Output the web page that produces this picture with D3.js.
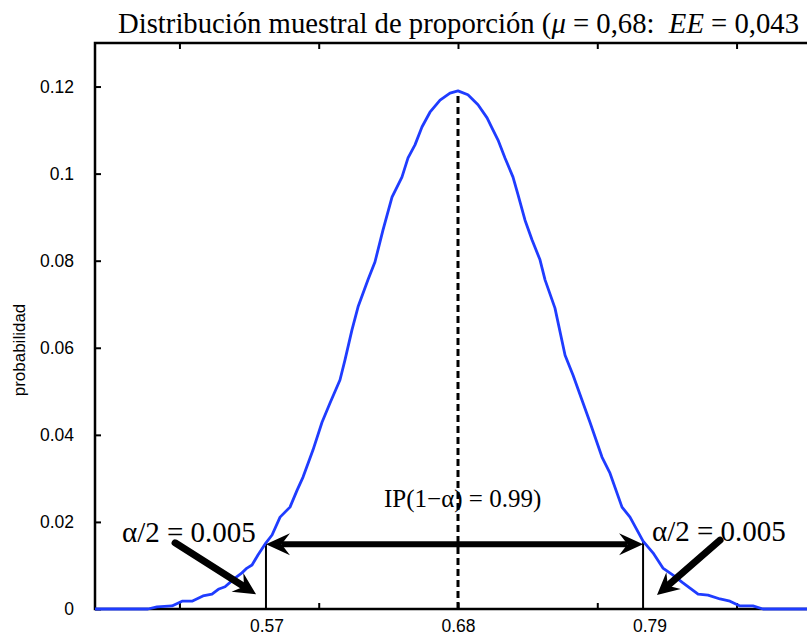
<!DOCTYPE html>
<html><head><meta charset="utf-8">
<script src="https://cdn.jsdelivr.net/npm/d3@7"></script>
<style>body{margin:0;background:#fff}svg{display:block}</style>
</head><body>
<svg id="c" width="807" height="636"></svg>
<script>
// Sample proportion values (x) and their probabilities (y)
const proportion = [0.4715,0.5019,0.5071,0.5157,0.5215,0.5272,0.5335,0.5387,0.5427,0.5462,0.5519,0.5559,0.5588,0.5617,0.5651,0.5697,0.5732,0.5778,0.5835,0.5876,0.5910,0.5967,0.6019,0.6065,0.6122,0.6151,0.6191,0.6226,0.6283,0.6323,0.6369,0.6421,0.6478,0.6513,0.6553,0.6593,0.6639,0.6697,0.6754,0.6800,0.6857,0.6915,0.6967,0.6995,0.7030,0.7070,0.7116,0.7145,0.7185,0.7225,0.7271,0.7300,0.7357,0.7415,0.7461,0.7512,0.7558,0.7627,0.7673,0.7742,0.7788,0.7863,0.7920,0.7977,0.8035,0.8092,0.8179,0.8236,0.8305,0.8362,0.8420,0.8494,0.8552,0.8885];
const probability = [0,0,0.0005,0.0007,0.0018,0.0018,0.0030,0.0034,0.0046,0.0051,0.0071,0.0083,0.0094,0.0101,0.0124,0.0152,0.0170,0.0211,0.0234,0.0273,0.0303,0.0365,0.0429,0.0473,0.0526,0.0572,0.0641,0.0694,0.0756,0.0797,0.0870,0.0946,0.0992,0.1036,0.1066,0.1107,0.1141,0.1169,0.1185,0.1190,0.1181,0.1158,0.1128,0.1105,0.1077,0.1036,0.0992,0.0951,0.0893,0.0848,0.0802,0.0756,0.0691,0.0583,0.0537,0.0480,0.0429,0.0349,0.0312,0.0234,0.0211,0.0156,0.0129,0.0094,0.0078,0.0060,0.0034,0.0032,0.0023,0.0018,0.0007,0.0007,0,0];

const yTicks = [0,0.02,0.04,0.06,0.08,0.1,0.12];
const yTickLabels = ["0","0.02","0.04","0.06","0.08","0.1","0.12"];
const xTicks = [0.52,0.60,0.68,0.76,0.84];
const xLabelValues = [0.57,0.68,0.79];
const xLabels = ["0.57","0.68","0.79"];

const meanValue = 0.68, peakValue = 0.1190;
const ciBounds = [0.5697, 0.7863];
const ciTops = [0.0152, 0.0156];
const ciArrowY = 0.0149;
// annotation arrows [x1,y1,x2,y2]
const tailArrows = [[0.5175,0.0152,0.5640,0.0034],[0.8305,0.0158,0.7943,0.0032]];
const tailLabels = [[0.4870,0.0154],[0.7914,0.0156]];
const ipLabel = [0.6375,0.0234];

const svg = d3.select("#c");
const L = 95, T = 43, B = 609, R = 821;
const x = d3.scaleLinear().domain([0.4715, 0.8885]).range([L, R]);
const y = d3.scaleLinear().domain([0, 0.13]).range([B, T]);

const sans = "'Liberation Sans', Arial, sans-serif";
const serif = "'Liberation Serif', 'Times New Roman', serif";

// frame
svg.append("rect").attr("x", L).attr("y", T).attr("width", R - L).attr("height", B - T)
  .attr("fill", "none").attr("stroke", "#000").attr("stroke-width", 2.5);

// y axis
const ya = svg.append("g").attr("transform", `translate(${L},0)`)
  .call(d3.axisLeft(y).tickValues(yTicks).tickFormat((d, i) => yTickLabels[i]).tickSizeInner(-6).tickSizeOuter(0).tickPadding(21));
ya.select(".domain").remove();
ya.selectAll("line").attr("stroke", "#000").attr("stroke-width", 2);
ya.selectAll("text").attr("font-family", sans).attr("font-size", 17.5).attr("fill", "#000");

// x ticks bottom & top
const xb = svg.append("g").attr("transform", `translate(0,${B})`)
  .call(d3.axisBottom(x).tickValues(xTicks).tickFormat("").tickSizeInner(-6).tickSizeOuter(0));
xb.select(".domain").remove();
xb.selectAll("line").attr("stroke", "#000").attr("stroke-width", 2);
const xt = svg.append("g").attr("transform", `translate(0,${T})`)
  .call(d3.axisTop(x).tickValues(xTicks).tickFormat("").tickSizeInner(-6).tickSizeOuter(0));
xt.select(".domain").remove();
xt.selectAll("line").attr("stroke", "#000").attr("stroke-width", 2);

// x labels
const xl = svg.append("g").attr("transform", `translate(0,${B})`)
  .call(d3.axisBottom(x).tickValues(xLabelValues).tickFormat((d, i) => xLabels[i]).tickSize(0).tickPadding(11));
xl.select(".domain").remove();
xl.selectAll("text").attr("font-family", sans).attr("font-size", 17.5).attr("fill", "#000");

// y label
svg.append("text").attr("transform", `translate(25,350) rotate(-90)`)
  .attr("text-anchor", "middle").attr("font-family", sans).attr("font-size", 17).text("probabilidad");

// title
const title = svg.append("text").attr("x", 118).attr("y", 33).attr("font-family", serif).attr("font-size", 28.7)
  .style("white-space", "pre").attr("xml:space", "preserve");
title.append("tspan").text("Distribución muestral de proporción (");
title.append("tspan").attr("font-style", "italic").text("μ");
title.append("tspan").text(" = 0,68:  ");
title.append("tspan").attr("font-style", "italic").text("EE");
title.append("tspan").text(" = 0,043");

// dashed mean line
svg.append("line").attr("x1", x(meanValue)).attr("x2", x(meanValue)).attr("y1", y(0)).attr("y2", y(peakValue))
  .attr("stroke", "#000").attr("stroke-width", 3).attr("stroke-dasharray", "7,4");

// CI vertical lines
ciBounds.forEach((b, i) => {
  svg.append("line").attr("x1", x(b)).attr("x2", x(b)).attr("y1", y(0)).attr("y2", y(ciTops[i]))
    .attr("stroke", "#000").attr("stroke-width", 2);
});

// curve
svg.append("path").datum(proportion.map((p, i) => [p, probability[i]]))
  .attr("d", d3.line().x(d => x(d[0])).y(d => y(d[1])))
  .attr("fill", "none").attr("stroke", "#1f3cff").attr("stroke-width", 2.8).attr("stroke-linejoin", "round");

// arrow helper
function head(tx, ty, ux, uy, len, w) {
  const nx = -uy, ny = ux;
  const p = [[tx, ty], [tx - len * ux + w * nx, ty - len * uy + w * ny], [tx - 0.65 * len * ux, ty - 0.65 * len * uy], [tx - len * ux - w * nx, ty - len * uy - w * ny]];
  svg.append("path").attr("d", "M" + p.map(q => q.join(",")).join("L") + "Z").attr("fill", "#000");
}
function arrow(x1, y1, x2, y2, sw, len, w, both) {
  const dx = x2 - x1, dy = y2 - y1, d = Math.hypot(dx, dy), ux = dx / d, uy = dy / d;
  const s = both ? 0.65 * len : 0;
  svg.append("line").attr("x1", x1 + s * ux).attr("y1", y1 + s * uy)
    .attr("x2", x2 - 0.65 * len * ux).attr("y2", y2 - 0.65 * len * uy)
    .attr("stroke", "#000").attr("stroke-width", sw).attr("stroke-linecap", both ? "butt" : "round");
  head(x2, y2, ux, uy, len, w);
  if (both) head(x1, y1, -ux, -uy, len, w);
}
arrow(x(ciBounds[0]), y(ciArrowY), x(ciBounds[1]), y(ciArrowY), 6, 24, 11, true);
tailArrows.forEach(a => arrow(x(a[0]), y(a[1]), x(a[2]), y(a[3]), 7, 22, 11, false));

// labels
tailLabels.forEach(t => {
  svg.append("text").attr("x", x(t[0])).attr("y", y(t[1])).attr("font-family", serif).attr("font-size", 29).text("α/2 = 0.005");
});
svg.append("text").attr("x", x(ipLabel[0])).attr("y", y(ipLabel[1])).attr("font-family", serif).attr("font-size", 25).text("IP(1−α) = 0.99)");
</script>
</body></html>
